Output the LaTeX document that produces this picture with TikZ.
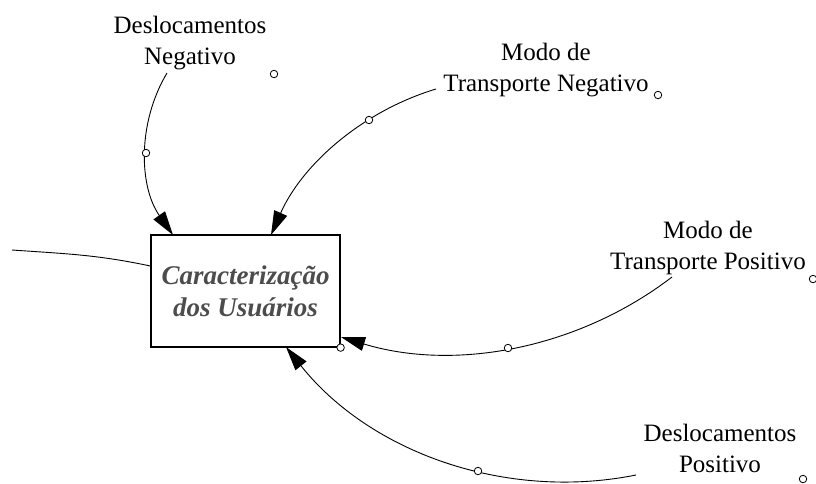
\documentclass[tikz,border=0pt]{standalone}
\usepackage{fontspec}
\setmainfont{Liberation Serif}
\usetikzlibrary{arrows.meta}
\tikzset{
	rotulo/.style={align=center, inner sep=0pt, font=\fontsize{25}{31}\selectfont},
	caixa/.style={draw, line width=1.2pt, minimum width=189pt, minimum height=112pt,
		inner sep=0pt, align=center, text=black!70,
		font=\fontsize{27}{32}\selectfont\bfseries\itshape},
	ligacao/.style={line width=0.9pt, -{Triangle[length=24pt, width=14pt]}},
	alca/.style={circle, draw, fill=white, line width=0.8pt, minimum size=7.5pt, inner sep=0pt},
}
\begin{document}
\begin{tikzpicture}[x=1pt, y=-1pt]
\useasboundingbox (0, 0) rectangle (816, 483);
\node[caixa] (caract) at (245.5, 291) {Caracterização\\dos Usuários};

\node[rotulo] (deslneg) at (190, 43) {Deslocamentos\\Negativo};
\node[rotulo] (modoneg) at (546, 70) {Modo de\\Transporte Negativo};
\node[rotulo] (modopos) at (708, 248) {Modo de\\Transporte Positivo};
\node[rotulo] (deslpos) at (720, 448) {Deslocamentos\\Positivo};

\def\conexao#1#2#3#4#5#6{% {início}{alça}{posição da alça}{ângulo inicial}{ângulo final}{raio}
	\draw[ligacao] (#1) arc[start angle=#4, end angle=#5, radius=#6];
	\node[alca] (#2) at (#3) {}
}

\coordinate (s1) at (167, 73);
\coordinate (s2) at (436, 89);
\coordinate (s3) at (672, 277);
\coordinate (s4) at (636, 475);

\conexao{s1}{h1}{146, 153}{210.81}{144.95}{149.1};
\conexao{s2}{h2}{369, 120}{-106.77}{-156.23}{263.3};
\conexao{s3}{h3}{508, 348}{52.54}{106.90}{368.25};
\conexao{s4}{h4}{478, 471}{78.69}{141.47}{357.7};

% ligação vinda de fora, pela esquerda
\coordinate (fora) at (12, 250);
\draw[line width=0.9pt] (fora) to[out=-4, in=168] ([yshift=25pt]caract.west);

% alças soltas dos rótulos
\foreach \n/\p in {deslneg/{274, 74}, modoneg/{658, 95}, modopos/{813, 279}, deslpos/{803, 479}}
	\node[alca] (alca-\n) at (\p) {};
\node[alca] (alca-caract) at (caract.south east) {};
\end{tikzpicture}
\end{document}
